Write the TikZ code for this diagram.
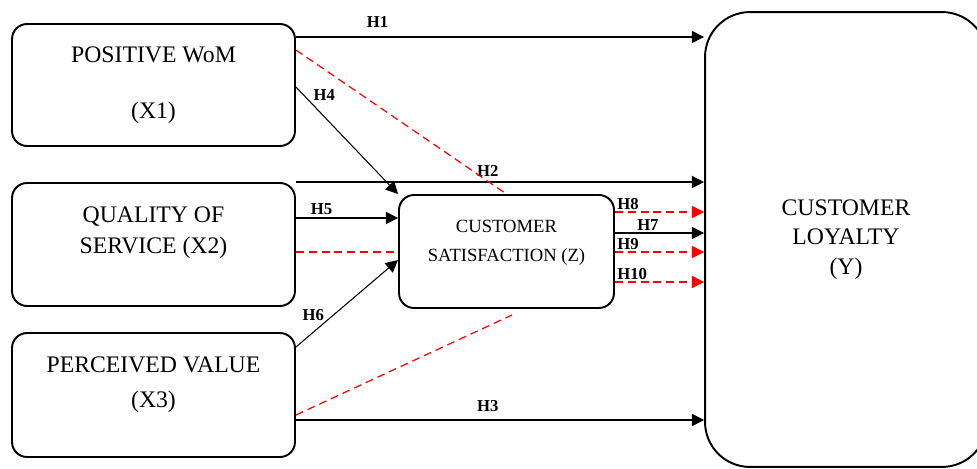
\documentclass[tikz,border=0pt]{standalone}
\usepackage{fontspec}
\setmainfont{Liberation Serif}
\usetikzlibrary{arrows.meta}

\begin{document}
\begin{tikzpicture}[x=0.02cm, y=-0.02cm,
    box/.style={draw, line width=1.1pt, rounded corners=0.3cm, minimum width=5.66cm, minimum height=2.46cm, inner sep=0pt},
    boxtext/.style={align=center, font=\fontsize{13.5pt}{18pt}\selectfont},
    ztext/.style={align=center, font=\fontsize{10.6pt}{16.4pt}\selectfont},
    arr/.style={-{Triangle[length=7pt,width=7pt]}, line width=0.8pt},
    redline/.style={red, dash pattern=on 4.5pt off 2.8pt, line width=0.7pt},
    redarr/.style={redline, -{Triangle[length=7pt,width=7pt]}},
    lbl/.style={text=black, font=\fontsize{9.5pt}{11pt}\selectfont\bfseries, inner sep=1pt}]

    \useasboundingbox (0,0) rectangle (977,469);

    % Define the constructs
    \node[box, minimum height=2.44cm, label={[boxtext]center:{POSITIVE WoM\\[13.8pt](X1)}}] (x1) at (153.5,85) {};
    \node[box, label={[boxtext, yshift=6.8pt]center:{QUALITY OF\\SERVICE (X2)}}] (x2) at (153.5,244.5) {};
    \node[box, minimum height=2.48cm, label={[boxtext, yshift=5.7pt]center:{PERCEIVED VALUE\\[2pt](X3)}}] (x3) at (153.5,395) {};
    \node[box, minimum width=4.3cm, minimum height=2.26cm, label={[ztext, yshift=5.1pt]center:{CUSTOMER\\SATISFACTION (Z)}}] (Z) at (506.5,251.5) {};
    \node[box, rounded corners=0.9cm, minimum width=5.64cm, minimum height=9.1cm, align=center, font=\fontsize{13.5pt}{16.7pt}\selectfont] (Y) at (846,239.5) {CUSTOMER\\LOYALTY\\(Y)};

    % Direct paths to loyalty
    \draw[arr] (x1.east |- 0,37) -- (Y.west |- 0,37) node[lbl, pos=0.2, above=4pt] {H1};
    \draw[arr] (x2.north east) -- (Y.west |- x2.north) node[lbl, pos=0.47, above=1.5pt] {H2};
    \draw[arr] (x3.east |- 0,420) -- (Y.west |- 0,420) node[lbl, pos=0.47, above=3.5pt] {H3};

    % Paths to satisfaction
    \draw[arr, line width=0.6pt] (x1.east |- 0,87) -- (Z.north west) node[lbl, pos=0.15, anchor=south west] {H4};
    \draw[arr] (x2.east |- 0,218) -- (Z.west |- 0,218) node[lbl, pos=0.25, above=0.5pt] {H5};
    \draw[arr, line width=0.6pt] (x3.east |- 0,347) -- (Z.west |- 0,260) node[lbl, pos=0.17, above=5pt] {H6};

    % Mediated paths
    \coordinate (zlow) at (512,315);
    \draw[redline] (x1.east |- 0,50) -- (Z.north);
    \draw[redline] (x2.east |- 0,252) -- (Z.west |- 0,252);
    \draw[redline] (x3.east |- 0,415) -- (zlow);

    % Satisfaction to loyalty
    \draw[redarr] (Z.east |- 0,212) -- (Y.west |- 0,212) node[lbl, pos=0, anchor=south west] {H8};
    \draw[arr] (Z.east |- 0,233) -- (Y.west |- 0,233) node[lbl, pos=0.37, above=0pt] {H7};
    \draw[redarr] (Z.east |- 0,252) -- (Y.west |- 0,252) node[lbl, pos=0, anchor=south west] {H9};
    \draw[redarr] (Z.east |- 0,282) -- (Y.west |- 0,282) node[lbl, pos=0, anchor=south west] {H10};
\end{tikzpicture}
\end{document}
